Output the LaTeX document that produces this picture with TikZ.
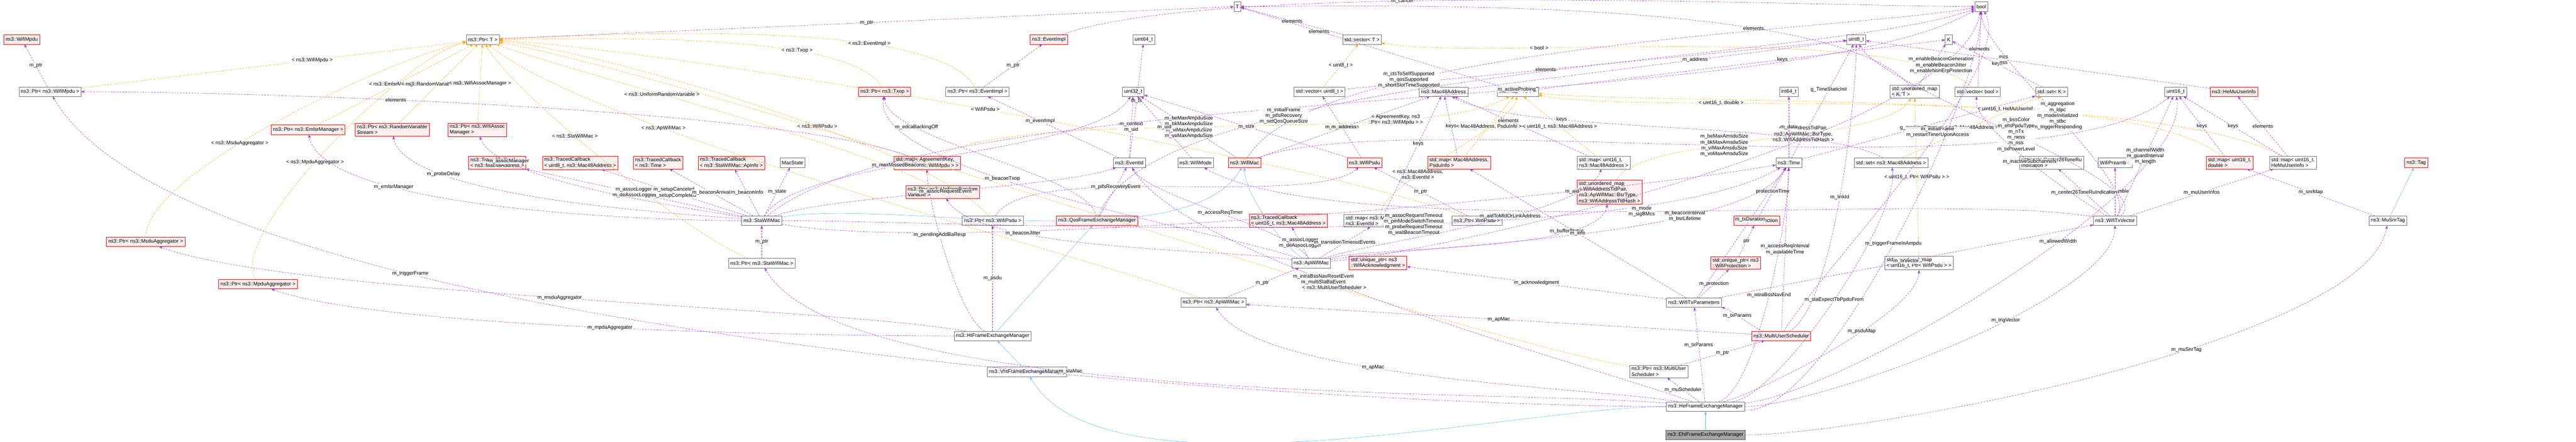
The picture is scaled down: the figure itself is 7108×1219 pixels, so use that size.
\documentclass[tikz,border=0pt]{standalone}
\usepackage{fontspec}
\setmainfont{Liberation Sans}
\usepackage{tikz}
\usetikzlibrary{arrows.meta}
\definecolor{mempurple}{HTML}{9A32CD}
\definecolor{tmplorange}{HTML}{FFA500}
\definecolor{inhblue}{HTML}{63B8FF}
\tikzset{
	cls/.style={rectangle, draw=gray!90!black, fill=white, line width=0.08pt, minimum height=2.6pt, inner xsep=0.5pt, inner ysep=0.4pt, align=left, font=\fontsize{1.4}{1.6}\selectfont},
	redcls/.style={cls, draw=red, fill=red!6},
	curcls/.style={cls, draw=gray!70!black, fill=gray!70},
	mem/.style={dashed, dash pattern=on 0.5pt off 0.3pt, color=mempurple, line width=0.08pt, looseness=0.45, -{Stealth[length=1pt,width=0.7pt]}},
	tmpl/.style={mem, color=tmplorange},
	inh/.style={color=inhblue, line width=0.08pt, looseness=0.6, -{Stealth[length=1pt,width=0.7pt]}},
	lbl/.style={fill=white, fill opacity=0.8, text opacity=1, inner sep=0.1pt, align=center, font=\fontsize{1.4}{1.6}\selectfont, text=black}
}

\begin{document}
\begin{tikzpicture}[x=0.1pt,y=-0.1pt]
		\useasboundingbox (0,0) rectangle (7108,1219);
		
		% Nodes
		\node (wmpdu) [redcls] at (60,109) {ns3::WifiMpdu};
		\node (ptrT) [cls] at (1332,109) {ns3::Ptr< T >};
		\node (T) [cls] at (3414,18) {T};
		\node (bool) [cls] at (5467,18) {bool};
		\node (evimpl) [redcls] at (2894,109) {ns3::EventImpl};
		\node (uint64) [cls] at (3156,109) {uint64\_t};
		\node (vecT) [cls] at (3758,109) {std::vector< T >};
		\node (uint8) [cls] at (5122,109) {uint8\_t};
		\node (K) [cls] at (5377,109) {K};
		\node (ptrmpdu) [cls] at (138,253) {ns3::Ptr< ns3::WifiMpdu >};
		\node (ptrtxop) [redcls] at (2441,253) {ns3::Ptr< ns3::Txop >};
		\node (ptrevimpl) [cls] at (2697,253) {ns3::Ptr< ns3::EventImpl >};
		\node (uint32) [cls] at (3127,253) {uint32\_t};
		\node (vecu8) [cls] at (3641,253) {std::vector< uint8\_t >};
		\node (mac48) [cls] at (3983,253) {ns3::Mac48Address};
		\node (mapKT) [cls] at (4188,253) {std::map< K, T >};
		\node (int64) [cls] at (4936,253) {int64\_t};
		\node (umapKT) [cls] at (5283,253) {std::unordered\_map\\< K, T >};
		\node (vecbool) [cls] at (5457,253) {std::vector< bool >};
		\node (setK) [cls] at (5661,253) {std::set< K >};
		\node (uint16) [cls] at (6003,253) {uint16\_t};
		\node (hemu) [redcls] at (6164,253) {ns3::HeMuUserInfo};
		\node (ptremlsr) [redcls] at (850,358) {ns3::Ptr< ns3::EmlsrManager >};
		\node (ptrrvs) [redcls] at (1082,358) {ns3::Ptr< ns3::RandomVariable\\Stream >};
		\node (ptrassoc) [redcls] at (1317,358) {ns3::Ptr< ns3::WifiAssoc\\Manager >};
		\node (tcmac) [redcls] at (1372,449) {ns3::TracedCallback\\< ns3::Mac48Address >};
		\node (tcu8) [redcls] at (1601,449) {ns3::TracedCallback\\< uint8\_t, ns3::Mac48Address >};
		\node (tctime) [redcls] at (1816,449) {ns3::TracedCallback\\< ns3::Time >};
		\node (tcap) [redcls] at (2018,449) {ns3::TracedCallback\\< ns3::StaWifiMac::ApInfo >};
		\node (macstate) [cls] at (2187,449) {MacState};
		\node (mapagree) [redcls] at (2558,449) {std::map< AgreementKey,\\ns3::Ptr< ns3::WifiMpdu > >};
		\node (evid) [cls] at (3116,449) {ns3::EventId};
		\node (wmode) [cls] at (3299,449) {ns3::WifiMode};
		\node (wmac) [redcls] at (3434,449) {ns3::WifiMac};
		\node (wpsdu) [redcls] at (3765,449) {ns3::WifiPsdu};
		\node (mappsdu) [redcls] at (4026,449) {std::map< Mac48Address,\\PsduInfo >};
		\node (mapu16mac) [cls] at (4425,449) {std::map< uint16\_t,\\ns3::Mac48Address >};
		\node (time) [cls] at (4936,449) {ns3::Time};
		\node (setmac) [cls] at (5218,449) {std::set< ns3::Mac48Address >};
		\node (optru) [cls] at (5661,449) {optional< Center26ToneRu\\Indication >};
		\node (preamble) [cls] at (5836,449) {WifiPreamble};
		\node (mapu16d) [redcls] at (6152,449) {std::map< uint16\_t,\\double >};
		\node (mapu16he) [cls] at (6327,449) {std::map< uint16\_t,\\HeMuUserInfo >};
		\node (tag) [redcls] at (6667,449) {ns3::Tag};
		\node (ptrurv) [redcls] at (2601,530) {ns3::Ptr< ns3::UniformRandom\\Variable >};
		\node (umapbsr) [redcls] at (4441,530) {std::unordered\_map\\< WifiAddressTidPair,\\ns3::ApWifiMac::BsrType,\\ns3::WifiAddressTidHash >};
		\node (sta) [cls] at (2102,609) {ns3::StaWifiMac};
		\node (ptrwpsdu) [cls] at (2739,609) {ns3::Ptr< ns3::WifiPsdu >};
		\node (qosfem) [redcls] at (3027,609) {ns3::QosFrameExchangeManager};
		\node (tcu16) [redcls] at (3555,609) {ns3::TracedCallback\\< uint16\_t, ns3::Mac48Address >};
		\node (mapmacev) [cls] at (3810,609) {std::map< ns3::Mac48Address,\\ns3::EventId >};
		\node (ptrpsdu) [cls] at (4075,609) {ns3::Ptr< WifiPsdu >};
		\node (wprot) [redcls] at (4847,609) {ns3::WifiProtection};
		\node (txvec) [cls] at (5836,609) {ns3::WifiTxVector};
		\node (musnr) [cls] at (6589,609) {ns3::MuSnrTag};
		\node (ptrmsdu) [redcls] at (402,667) {ns3::Ptr< ns3::MsduAggregator >};
		\node (ptrsta) [cls] at (2102,726) {ns3::Ptr< ns3::StaWifiMac >};
		\node (ap) [cls] at (3618,726) {ns3::ApWifiMac};
		\node (uackn) [redcls] at (3802,726) {std::unique\_ptr< ns3\\::WifiAcknowledgment >};
		\node (uprot) [redcls] at (4789,726) {std::unique\_ptr< ns3\\::WifiProtection >};
		\node (umappsdu) [cls] at (5295,726) {std::unordered\_map\\< uint16\_t, Ptr< WifiPsdu > >};
		\node (ptrmpdua) [redcls] at (712,784) {ns3::Ptr< ns3::MpduAggregator >};
		\node (ptrap) [cls] at (3348,835) {ns3::Ptr< ns3::ApWifiMac >};
		\node (txparams) [cls] at (4674,835) {ns3::WifiTxParameters};
		\node (htfem) [cls] at (2739,927) {ns3::HtFrameExchangeManager};
		\node (mus) [redcls] at (4915,927) {ns3::MultiUserScheduler};
		\node (vhtfem) [cls] at (2834,1026) {ns3::VhtFrameExchangeManager};
		\node (ptrmus) [cls] at (4577,1025) {ns3::Ptr< ns3::MultiUser\\Scheduler >};
		\node (hefem) [cls] at (4706,1122) {ns3::HeFrameExchangeManager};
		\node (ehtfem) [curcls] at (4706,1200) {ns3::EhtFrameExchangeManager};
		
		% Inheritance
		\draw [inh] (ehtfem) -- (hefem);
		\draw [inh] (hefem) to[out=180,in=-60] (vhtfem);
		\draw [inh] (vhtfem) -- (htfem);
		\draw [inh] (htfem) -- (qosfem);
		\draw [inh] (sta) to[out=10,in=-120] (wmac);
		\draw [inh] (ap) to[out=150,in=-90] (wmac);
		\draw [inh] (musnr) -- (tag);
		
		% Template instances
		\draw [tmpl] (ptrmpdu) -- node[lbl, pos=0.6] {< ns3::WifiMpdu >} (ptrT);
		\draw [tmpl] (ptrmsdu) to[out=90,in=190] node[lbl, pos=0.4] {< ns3::MsduAggregator >} (ptrT);
		\draw [tmpl] (ptrmpdua) to[out=120,in=190] node[lbl, pos=0.45] {< ns3::MpduAggregator >} (ptrT);
		\draw [tmpl] (ptrsta) to[out=160,in=-60] node[lbl, pos=0.6] {< ns3::StaWifiMac >} (ptrT);
		\draw [tmpl] (ptrap) to[out=160,in=-40] node[lbl, pos=0.7] {< ns3::ApWifiMac >} (ptrT);
		\draw [tmpl] (ptremlsr) -- node[lbl, pos=0.5] {< ns3::EmlsrManager >} (ptrT);
		\draw [tmpl] (ptrrvs) -- node[lbl, pos=0.5] {< ns3::RandomVariableStream >} (ptrT);
		\draw [tmpl] (ptrassoc) -- node[lbl, pos=0.5] {< ns3::WifiAssocManager >} (ptrT);
		\draw [tmpl] (ptrurv) to[out=150,in=-20] node[lbl, pos=0.6] {< ns3::UniformRandomVariable >} (ptrT);
		\draw [tmpl] (ptrtxop) to[out=120,in=0] node[lbl, pos=0.3] {< ns3::Txop >} (ptrT);
		\draw [tmpl] (ptrevimpl) to[out=120,in=2] node[lbl, pos=0.3] {< ns3::EventImpl >} (ptrT);
		\draw [tmpl] (ptrwpsdu) to[out=130,in=-5] node[lbl, pos=0.4] {< ns3::WifiPsdu >} (ptrT);
		\draw [tmpl] (ptrpsdu) to[out=160,in=-3] node[lbl, pos=0.5] {< WifiPsdu >} (ptrT);
		\draw [tmpl] (ptrmus) to[out=170,in=-10] node[lbl, pos=0.3] {< ns3::MultiUserScheduler >} (ptrT);
		\draw [tmpl] (vecu8) -- node[lbl] {< uint8\_t >} (vecT);
		\draw [tmpl] (vecbool) to[out=140,in=-10] node[lbl, pos=0.7] {< bool >} (vecT);
		\draw [tmpl] (mappsdu) -- node[lbl] {< Mac48Address, PsduInfo >} (mapKT);
		\draw [tmpl] (mapu16mac) -- node[lbl] {< uint16\_t, ns3::Mac48Address >} (mapKT);
		\draw [tmpl] (mapmacev) to[out=90,in=-100] node[lbl, pos=0.35] {< ns3::Mac48Address,\\ns3::EventId >} (mapKT);
		\draw [tmpl] (mapagree) to[out=30,in=-150] node[lbl, pos=0.75] {< AgreementKey, ns3\\::Ptr< ns3::WifiMpdu > >} (mapKT);
		\draw [tmpl] (mapu16d) to[out=140,in=-10] node[lbl, pos=0.7] {< uint16\_t, double >} (mapKT);
		\draw [tmpl] (mapu16he) to[out=150,in=-5] node[lbl, pos=0.4] {< uint16\_t, HeMuUserInfo >} (mapKT);
		\draw [tmpl] (umapbsr) to[out=60,in=-120] node[lbl, pos=0.6] {< WifiAddressTidPair,\\ns3::ApWifiMac::BsrType,\\ns3::WifiAddressTidHash >} (umapKT);
		\draw [tmpl] (umappsdu) -- node[lbl, pos=0.5] {< uint16\_t, Ptr< WifiPsdu > >} (umapKT);
		\draw [tmpl] (setmac) -- node[lbl] {< ns3::Mac48Address >} (setK);
		
		% Members
		\draw [mem] (ptrmpdu) -- node[lbl, pos=0.5] {m\_ptr} (wmpdu);
		\draw [mem] (ptrT) -- node[lbl] {m\_ptr} (T);
		\draw [mem] (ptrevimpl) -- node[lbl] {m\_ptr} (evimpl);
		\draw [mem] (evimpl) to[out=20,in=180] node[lbl, pos=0.4] {m\_cancel} (bool);
		\draw [mem] (evid) -- node[lbl, pos=0.6] {m\_eventImpl} (ptrevimpl);
		\draw [mem] (evid) -- node[lbl, pos=0.5] {m\_ts} (uint64);
		\draw [mem] (evid) -- node[lbl, pos=0.5] {m\_context\\m\_uid} (uint32);
		\draw [mem] (vecT) -- node[lbl] {elements} (T);
		\draw [mem] (mac48) -- node[lbl, pos=0.6] {m\_address} (uint8);
		\draw [mem] (mapKT) -- node[lbl, pos=0.6] {keys} (K);
		\draw [mem] (mapKT) -- node[lbl, pos=0.7] {elements} (T);
		\draw [mem] (umapKT) -- node[lbl] {keys} (K);
		\draw [mem] (umapKT) to[out=130,in=0] node[lbl, pos=0.3] {elements} (T);
		\draw [mem] (setK) -- node[lbl] {keys} (K);
		\draw [mem] (vecbool) -- node[lbl] {elements} (bool);
		\draw [mem] (vecu8) -- node[lbl, pos=0.4] {elements} (uint8);
		\draw [mem] (time) -- node[lbl] {m\_data} (int64);
		\draw [mem] (time) -- node[lbl, pos=0.6] {g\_TimeStaticInit} (uint8);
		\draw [mem] (time) -- node[lbl, pos=0.5] {g\_markingTimes} (setK);
		\draw [mem] (hemu) -- node[lbl, pos=0.6] {mcs\\nss} (uint8);
		\draw [mem] (mapu16he) -- node[lbl] {elements} (hemu);
		\draw [mem] (mapu16he) -- node[lbl] {keys} (uint16);
		\draw [mem] (mapu16d) -- node[lbl] {keys} (uint16);
		\draw [mem] (mappsdu) -- node[lbl] {keys} (mac48);
		\draw [mem] (mapu16mac) -- node[lbl, pos=0.6] {elements} (mac48);
		\draw [mem] (mapmacev) -- node[lbl, pos=0.6] {keys} (mac48);
		\draw [mem] (setmac) to[out=150,in=-30] node[lbl, pos=0.7] {keys} (mac48);
		\draw [mem] (mapagree) to[out=160,in=0] node[lbl, pos=0.6] {elements} (ptrmpdu);
		\draw [mem] (wpsdu) -- node[lbl, pos=0.5] {m\_size} (uint32);
		\draw [mem] (wpsdu) -- node[lbl, pos=0.5] {m\_ruAllocation} (vecu8);
		\draw [mem] (ptrwpsdu) to[out=60,in=-140] node[lbl, pos=0.4] {m\_ptr} (wpsdu);
		\draw [mem] (ptrpsdu) -- node[lbl, pos=0.5] {m\_ptr} (wpsdu);
		\draw [mem] (wmac) to[out=60,in=-170] node[lbl, pos=0.3] {m\_ctsToSelfSupported\\m\_qosSupported\\m\_shortSlotTimeSupported} (bool);
		\draw [mem] (wmac) -- node[lbl, pos=0.5] {m\_address} (mac48);
		\draw [mem] (wmac) -- node[lbl, pos=0.5] {m\_beMaxAmpduSize\\m\_bkMaxAmpduSize\\m\_viMaxAmpduSize\\m\_voMaxAmpduSize} (uint32);
		\draw [mem] (wmac) to[out=20,in=-140] node[lbl, pos=0.5] {m\_beMaxAmsduSize\\m\_bkMaxAmsduSize\\m\_viMaxAmsduSize\\m\_voMaxAmsduSize} (uint16);
		\draw [mem] (wmode) -- node[lbl, pos=0.5] {m\_uid} (uint32);
		\draw [mem] (sta) -- node[lbl, pos=0.5] {m\_assocLogger\\m\_deAssocLogger} (tcmac);
		\draw [mem] (sta) -- node[lbl, pos=0.5] {m\_setupCanceled\\m\_setupCompleted} (tcu8);
		\draw [mem] (sta) -- node[lbl, pos=0.5] {m\_beaconArrival} (tctime);
		\draw [mem] (sta) -- node[lbl, pos=0.5] {m\_beaconInfo} (tcap);
		\draw [mem] (sta) -- node[lbl, pos=0.5] {m\_state} (macstate);
		\draw [mem] (sta) to[out=180,in=-80] node[lbl, pos=0.7] {m\_emlsrManager} (ptremlsr);
		\draw [mem] (sta) to[out=175,in=-80] node[lbl, pos=0.75] {m\_probeDelay} (ptrrvs);
		\draw [mem] (sta) to[out=170,in=-70] node[lbl, pos=0.8] {m\_assocManager} (ptrassoc);
		\draw [mem] (sta) to[out=60,in=-120] node[lbl, pos=0.4] {m\_maxMissedBeacons} (uint32);
		\draw [mem] (sta) to[out=20,in=-160] node[lbl, pos=0.5] {m\_assocRequestEvent} (evid);
		\draw [mem] (sta) to[out=0,in=-150] node[lbl, pos=0.6] {m\_assocRequestTimeout\\m\_pmModeSwitchTimeout\\m\_probeRequestTimeout\\m\_waitBeaconTimeout} (time);
		\draw [mem] (sta) to[out=40,in=-150] node[lbl, pos=0.6] {m\_activeProbing} (bool);
		\draw [mem] (sta) to[out=-10,in=-170] node[lbl, pos=0.75] {m\_aid} (time);
		\draw [mem] (ptrsta) -- node[lbl] {m\_ptr} (sta);
		\draw [mem] (ap) -- node[lbl, pos=0.5] {m\_assocLogger\\m\_deAssocLogger} (tcu16);
		\draw [mem] (ap) -- node[lbl, pos=0.5] {m\_transitionTimeoutEvents} (mapmacev);
		\draw [mem] (ap) to[out=20,in=-110] node[lbl, pos=0.6] {m\_aidToMldOrLinkAddress} (mapu16mac);
		\draw [mem] (ap) to[out=15,in=-100] node[lbl, pos=0.75] {m\_bufferStatus} (umapbsr);
		\draw [mem] (ap) to[out=10,in=-120] node[lbl, pos=0.7] {m\_beaconInterval\\m\_bsrLifetime} (time);
		\draw [mem] (ap) to[out=5,in=-100] node[lbl, pos=0.85] {m\_enableBeaconGeneration\\m\_enableBeaconJitter\\m\_enableNonErpProtection} (bool);
		\draw [mem] (ap) to[out=170,in=-60] node[lbl, pos=0.7] {m\_beaconJitter} (ptrurv);
		\draw [mem] (ap) to[out=160,in=-100] node[lbl, pos=0.6] {m\_beaconTxop} (ptrtxop);
		\draw [mem] (ap) to[out=120,in=-60] node[lbl, pos=0.5] {m\_accessReqTimer} (evid);
		\draw [mem] (ptrap) -- node[lbl] {m\_ptr} (ap);
		\draw [mem] (qosfem) -- node[lbl, pos=0.6] {m\_pifsRecoveryEvent} (evid);
		\draw [mem] (qosfem) to[out=100,in=-90] node[lbl, pos=0.75] {m\_edcaBackingOff} (ptrtxop);
		\draw [mem] (qosfem) to[out=70,in=-160] node[lbl, pos=0.3] {m\_initialFrame\\m\_pifsRecovery\\m\_setQosQueueSize} (bool);
		\draw [mem] (htfem) -- node[lbl, pos=0.5] {m\_psdu} (ptrwpsdu);
		\draw [mem] (htfem) to[out=150,in=-90] node[lbl, pos=0.6] {m\_pendingAddBaResp} (mapagree);
		\draw [mem] (htfem) to[out=170,in=-20] node[lbl, pos=0.5] {m\_msduAggregator} (ptrmsdu);
		\draw [mem] (htfem) to[out=180,in=-20] node[lbl, pos=0.5] {m\_mpduAggregator} (ptrmpdua);
		\draw [mem] (txparams) -- node[lbl, pos=0.5] {m\_acknowledgment} (uackn);
		\draw [mem] (txparams) -- node[lbl, pos=0.5] {m\_protection} (uprot);
		\draw [mem] (txparams) -- node[lbl, pos=0.5] {m\_info} (mappsdu);
		\draw [mem] (txparams) -- node[lbl, pos=0.6] {m\_txDuration} (time);
		\draw [mem] (txparams) -- node[lbl, pos=0.5] {m\_txVector} (txvec);
		\draw [mem] (uprot) -- node[lbl, pos=0.5] {ptr} (wprot);
		\draw [mem] (wprot) -- node[lbl, pos=0.5] {protectionTime} (time);
		\draw [mem] (mus) -- node[lbl, pos=0.5] {m\_apMac} (ptrap);
		\draw [mem] (mus) -- node[lbl, pos=0.5] {m\_accessReqInterval\\m\_availableTime} (time);
		\draw [mem] (mus) to[out=165,in=-10] node[lbl, pos=0.6] {m\_txParams} (txparams);
		\draw [mem] (mus) to[out=30,in=-90] node[lbl, pos=0.5] {m\_linkId} (uint8);
		\draw [mem] (mus) to[out=60,in=-60] node[lbl, pos=0.6] {m\_initialFrame\\m\_restartTimerUponAccess} (bool);
		\draw [mem] (ptrmus) -- node[lbl, pos=0.5] {m\_ptr} (mus);
		\draw [mem] (txvec) -- node[lbl, pos=0.5] {m\_channelWidth\\m\_guardInterval\\m\_length} (uint16);
		\draw [mem] (txvec) to[out=60,in=-90] node[lbl, pos=0.5] {m\_aggregation\\m\_ldpc\\m\_modeInitialized\\m\_stbc\\m\_triggerResponding} (bool);
		\draw [mem] (txvec) to[out=40,in=-60] node[lbl, pos=0.5] {m\_bssColor\\m\_ehtPpduType\\m\_nTx\\m\_ness\\m\_nss\\m\_txPowerLevel} (uint8);
		\draw [mem] (txvec) -- node[lbl, pos=0.5] {m\_preamble} (preamble);
		\draw [mem] (txvec) -- node[lbl, pos=0.5] {m\_center26ToneRuIndication} (optru);
		\draw [mem] (txvec) -- node[lbl, pos=0.5] {m\_muUserInfos} (mapu16he);
		\draw [mem] (txvec) to[out=150,in=-100] node[lbl, pos=0.5] {m\_inactiveSubchannels} (vecbool);
		\draw [mem] (txvec) to[out=170,in=-30] node[lbl, pos=0.5] {m\_mode\\m\_sigBMcs} (wmode);
		\draw [mem] (musnr) -- node[lbl, pos=0.5] {m\_snrMap} (mapu16d);
		\draw [mem] (ehtfem) to[out=0,in=-100] node[lbl, pos=0.6] {m\_muSnrTag} (musnr);
		\draw [mem] (hefem) to[out=0,in=-90] node[lbl, pos=0.6] {m\_trigVector} (txvec);
		\draw [mem] (hefem) to[out=5,in=-80] node[lbl, pos=0.6] {m\_allowedWidth} (uint16);
		\draw [mem] (hefem) to[out=-5,in=-90] node[lbl, pos=0.5] {m\_triggerFrameInAmpdu} (bool);
		\draw [mem] (hefem) to[out=10,in=-80] node[lbl, pos=0.5] {m\_staExpectTbPpduFrom} (setmac);
		\draw [mem] (hefem) to[out=15,in=-90] node[lbl, pos=0.6] {m\_psduMap} (umappsdu);
		\draw [mem] (hefem) to[out=20,in=-90] node[lbl, pos=0.5] {m\_intraBssNavEnd} (time);
		\draw [mem] (hefem) to[out=160,in=-60] node[lbl, pos=0.6] {m\_intraBssNavResetEvent\\m\_multiStaBaEvent} (evid);
		\draw [mem] (hefem) -- node[lbl, pos=0.5] {m\_muScheduler} (ptrmus);
		\draw [mem] (hefem) -- node[lbl, pos=0.6] {m\_txParams} (txparams);
		\draw [mem] (hefem) to[out=170,in=-60] node[lbl, pos=0.6] {m\_apMac} (ptrap);
		\draw [mem] (hefem) to[out=175,in=-60] node[lbl, pos=0.6] {m\_staMac} (ptrsta);
		\draw [mem] (hefem) to[out=180,in=-60] node[lbl, pos=0.7] {m\_triggerFrame} (ptrmpdu);
		
	\end{tikzpicture}
\end{document}
